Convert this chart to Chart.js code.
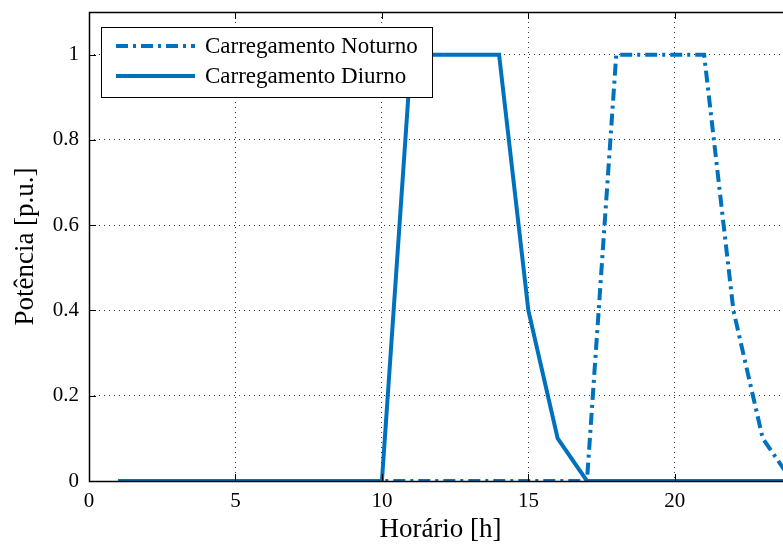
<!DOCTYPE html>
<html>
<head>
<meta charset="utf-8">
<script src="https://cdn.jsdelivr.net/npm/chart.js@4.4.1/dist/chart.umd.min.js"></script>
<style>
  html, body { margin: 0; padding: 0; background: #fff; overflow: hidden; }
  #wrap { width: 783px; height: 546px; overflow: hidden; }
</style>
</head>
<body>
<div id="wrap"><canvas id="potencia" width="800" height="546"></canvas></div>
<script>
const hours = [1, 2, 3, 4, 5, 6, 7, 8, 9, 10, 11, 12, 13, 14, 15, 16, 17, 18, 19, 20, 21, 22, 23, 24];
const noturno = [0, 0, 0, 0, 0, 0, 0, 0, 0, 0, 0, 0, 0, 0, 0, 0, 0, 1, 1, 1, 1, 0.4, 0.1, 0];
const diurno = [0, 0, 0, 0, 0, 0, 0, 0, 0, 0, 1, 1, 1, 1, 0.4, 0.1, 0, 0, 0, 0, 0, 0, 0, 0];
const xTicks = [0, 5, 10, 15, 20];
const yTicks = [0, 0.2, 0.4, 0.6, 0.8, 1];
const labels = ['Carregamento Noturno', 'Carregamento Diurno'];

const blue = '#0072BD';
const serif = '"Liberation Serif", "Times New Roman", serif';

function points(ys) {
  return hours.map((h, i) => ({ x: h, y: ys[i] }));
}

// frame, inward tick marks and the boxed legend in the top-left corner
const matlabAxes = {
  id: 'matlabAxes',
  afterDatasetsDraw(chart) {
    const { ctx, chartArea: a, scales } = chart;
    ctx.save();
    ctx.strokeStyle = '#000';
    ctx.lineWidth = 1;
    ctx.setLineDash([]);
    ctx.beginPath();
    xTicks.forEach(v => {
      const px = Math.round(scales.x.getPixelForValue(v)) + 0.5;
      ctx.moveTo(px, a.bottom); ctx.lineTo(px, a.bottom - 7);
      ctx.moveTo(px, a.top); ctx.lineTo(px, a.top + 7);
    });
    yTicks.forEach(v => {
      const py = Math.round(scales.y.getPixelForValue(v)) + 0.5;
      ctx.moveTo(a.left, py); ctx.lineTo(a.left + 7, py);
    });
    ctx.stroke();
    ctx.lineWidth = 1.5;
    ctx.strokeRect(a.left + 0.5, a.top + 0.5, a.right - a.left, a.bottom - a.top);

    // legend
    const lx = a.left + 12, ly = a.top + 15, lw = 331, lh = 70;
    ctx.fillStyle = '#fff';
    ctx.fillRect(lx, ly, lw, lh);
    ctx.lineWidth = 1;
    ctx.strokeRect(lx + 0.5, ly + 0.5, lw, lh);
    ctx.font = '23px ' + serif;
    ctx.textBaseline = 'middle';
    chart.data.datasets.forEach((ds, i) => {
      const ry = ly + 19 + i * 30;
      ctx.strokeStyle = ds.borderColor;
      ctx.lineWidth = ds.borderWidth;
      ctx.setLineDash(ds.borderDash || []);
      ctx.beginPath();
      ctx.moveTo(lx + 15, ry); ctx.lineTo(lx + 94, ry);
      ctx.stroke();
      ctx.setLineDash([]);
      ctx.fillStyle = '#000';
      ctx.fillText(ds.label, lx + 104, ry + 1);
    });
    ctx.restore();
  }
};

new Chart(document.getElementById('potencia'), {
  type: 'scatter',
  data: {
    datasets: [{
      label: labels[0],
      data: points(noturno),
      showLine: true,
      borderColor: blue,
      backgroundColor: blue,
      borderWidth: 4,
      borderDash: [12, 5, 3, 5],
      pointRadius: 0,
      tension: 0
    }, {
      label: labels[1],
      data: points(diurno),
      showLine: true,
      borderColor: blue,
      backgroundColor: blue,
      borderWidth: 4,
      pointRadius: 0,
      tension: 0
    }]
  },
  plugins: [matlabAxes],
  options: {
    responsive: false,
    animation: false,
    layout: { padding: { top: 12, right: 8, left: 0, bottom: 0 } },
    plugins: {
      legend: { display: false },
      tooltip: { enabled: false }
    },
    scales: {
      x: {
        type: 'linear',
        min: 0,
        max: 24,
        afterBuildTicks(s) { s.ticks = xTicks.map(v => ({ value: v })); },
        afterFit(s) { s.height = 65; s.paddingLeft = 0; s.paddingRight = 0; },
        grid: { color: '#333', drawTicks: false },
        border: { display: false, dash: [1, 4] },
        ticks: { color: '#000', padding: 8, font: { family: serif, size: 21 } },
        title: {
          display: true,
          text: 'Horário [h]',
          color: '#000',
          padding: { top: 0, bottom: 0 },
          font: { family: serif, size: 27 }
        }
      },
      y: {
        min: 0,
        max: 1.1,
        afterBuildTicks(s) { s.ticks = yTicks.map(v => ({ value: v })); },
        afterFit(s) { s.width = 89; s.paddingTop = 0; s.paddingBottom = 0; },
        grid: { color: '#333', drawTicks: false },
        border: { display: false, dash: [1, 4] },
        ticks: {
          color: '#000',
          padding: 10,
          font: { family: serif, size: 21 },
          callback: v => (v === 0 || v === 1) ? String(v) : v.toFixed(1)
        },
        title: {
          display: true,
          text: 'Potência [p.u.]',
          color: '#000',
          padding: { top: 10, bottom: 0 },
          font: { family: serif, size: 27 }
        }
      }
    }
  }
});
</script>
</body>
</html>
